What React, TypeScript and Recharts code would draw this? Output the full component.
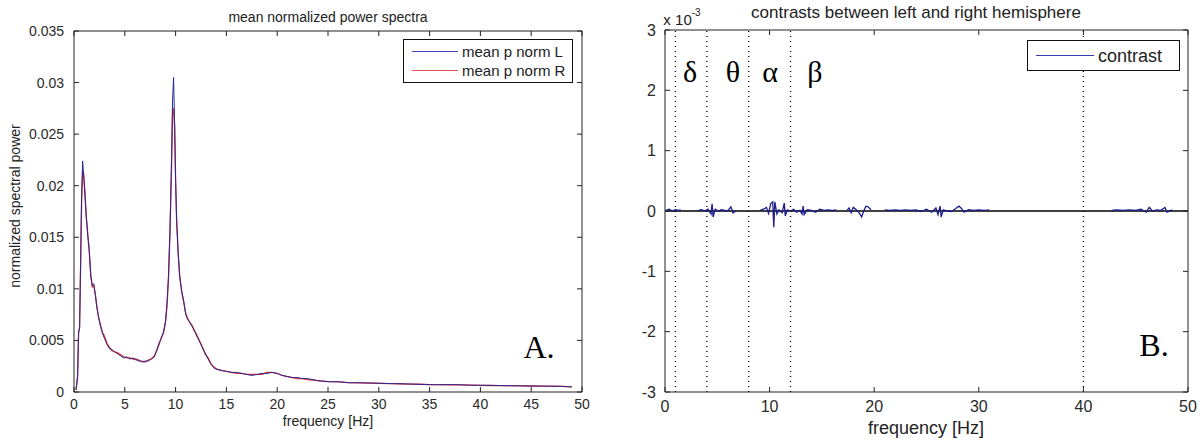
import React from 'react';
import { LineChart, Line, XAxis, YAxis, ReferenceLine } from 'recharts';

// panel A: mean normalized power spectra (left / right hemisphere)
const spectrumFreq = [
  0.2, 0.35, 0.45, 0.55, 0.65, 0.75, 0.85, 0.95, 1.05, 1.2, 1.35, 1.5, 1.65, 1.8, 1.95,
  2.1, 2.25, 2.4, 2.6, 2.8, 3.0, 3.25, 3.5, 3.75, 4.0, 4.3, 4.6, 4.9, 5.2, 5.5, 5.8,
  6.1, 6.4, 6.7, 7.0, 7.3, 7.6, 7.9, 8.15, 8.4, 8.6, 8.8, 9.0, 9.15, 9.3, 9.45, 9.6,
  9.7, 9.8, 9.9, 10.0, 10.1, 10.25, 10.4, 10.6, 10.8, 11.0, 11.2, 11.4, 11.6, 11.8,
  12.0, 12.3, 12.6, 12.9, 13.2, 13.5, 13.8, 14.1, 14.5, 15.0, 15.5, 16.0, 16.5, 17.0,
  17.5, 18.0, 18.5, 19.0, 19.5, 20.0, 20.5, 21.0, 21.5, 22.0, 22.5, 23.0, 24.0, 25.0,
  26.0, 27.0, 28.0, 29.0, 30.0, 31.0, 32.0, 33.0, 34.0, 35.0, 36.0, 37.0, 38.0, 39.0,
  40.0, 41.0, 42.0, 43.0, 44.0, 45.0, 46.0, 47.0, 48.0, 49.0,
];
const meanPNormL = [
  0.0002, 0.0015, 0.0058, 0.0062, 0.0125, 0.019, 0.0224, 0.021, 0.0198, 0.0172, 0.0152, 0.0138, 0.0112, 0.0103, 0.0105,
  0.0094, 0.0082, 0.0074, 0.0064, 0.0057, 0.0052, 0.0046, 0.0042, 0.0041, 0.0039, 0.0037, 0.0035, 0.0033, 0.0034, 0.0032, 0.0033,
  0.0031, 0.0031, 0.0029, 0.003, 0.003, 0.0032, 0.0034, 0.0041, 0.0048, 0.0052, 0.0058, 0.0068, 0.0085, 0.0112, 0.0158, 0.0225,
  0.0282, 0.0305, 0.0262, 0.0205, 0.0168, 0.0135, 0.0112, 0.0098, 0.0088, 0.0075, 0.007, 0.0068, 0.0064, 0.0061,
  0.0056, 0.005, 0.0044, 0.0038, 0.0032, 0.0027, 0.0023, 0.0022, 0.0021, 0.002, 0.0019, 0.0019, 0.0018, 0.0017,
  0.0016, 0.0017, 0.0018, 0.0018, 0.0019, 0.0018, 0.0016, 0.0015, 0.0014, 0.0014, 0.0013, 0.0013, 0.0011, 0.001,
  0.001, 0.0009, 0.0009, 0.00088, 0.00085, 0.00082, 0.0008, 0.00078, 0.00074, 0.00072, 0.0007, 0.00072, 0.0007, 0.00066,
  0.00065, 0.00064, 0.00062, 0.0006, 0.0006, 0.00058, 0.00057, 0.00055, 0.00055, 0.0005,
];
const meanPNormR = [
  0.0002, 0.0014, 0.0056, 0.0063, 0.0122, 0.0186, 0.0214, 0.0212, 0.0196, 0.017, 0.0154, 0.0136, 0.0114, 0.0102, 0.0103,
  0.0095, 0.0083, 0.0073, 0.0065, 0.0058, 0.0054, 0.0047, 0.0043, 0.004, 0.0039, 0.0038, 0.0036, 0.0034, 0.0033, 0.0033, 0.0032,
  0.0032, 0.003, 0.003, 0.0029, 0.0031, 0.0032, 0.0035, 0.004, 0.0047, 0.0053, 0.0057, 0.0067, 0.0083, 0.011, 0.0155, 0.0218,
  0.027, 0.0275, 0.0258, 0.0206, 0.0166, 0.0136, 0.0113, 0.0097, 0.0087, 0.0076, 0.0071, 0.0067, 0.0065, 0.006,
  0.0057, 0.0051, 0.0044, 0.0037, 0.0033, 0.0027, 0.0024, 0.0022, 0.0021, 0.002, 0.0019, 0.0018, 0.0018, 0.0017,
  0.0017, 0.0017, 0.0017, 0.0019, 0.0019, 0.0018, 0.0016, 0.0015, 0.0014, 0.0013, 0.0013, 0.0012, 0.0011, 0.001,
  0.00098, 0.0009, 0.00088, 0.00087, 0.00084, 0.00081, 0.0008, 0.00077, 0.00075, 0.00072, 0.00071, 0.0007, 0.00069, 0.00067,
  0.00065, 0.00063, 0.00062, 0.00061, 0.00059, 0.00058, 0.00057, 0.00056, 0.00054, 0.0005,
];
const freqTicksA = [0, 5, 10, 15, 20, 25, 30, 35, 40, 45, 50];
const powerTicks = [0, 0.005, 0.01, 0.015, 0.02, 0.025, 0.03, 0.035];

// panel B: L - R contrast, in units of 10^-3 (null = gap in the trace)
const contrastFreq = [
  0.1, 0.4, 0.7, 1.0, 1.3, 1.5, 2.0,
  3.2, 3.5, 3.8, 4.1, 4.4, 4.5, 4.6, 4.8, 5.1, 5.4, 5.7, 6.0, 6.3, 6.5, 6.8, 7.5,
  9.1, 9.4, 9.7, 9.9, 10.1, 10.3, 10.4, 10.5, 10.7, 10.9, 11.2, 11.4, 11.5, 11.7, 12.0, 12.3, 12.6, 12.9,
  13.1, 13.2, 13.3, 13.6, 14.0, 14.4, 14.8, 15.2, 15.6, 16.0, 16.4, 16.8,
  17.4, 17.6, 17.8, 18.0, 18.3, 18.6, 18.8, 19.0, 19.2, 19.4, 19.7, 20.3,
  21.0, 21.5, 22.0, 22.5, 23.0, 23.5, 24.0, 24.5, 25.0, 25.5, 25.9, 26.1, 26.3, 26.4, 26.6, 27.0,
  27.4, 27.8, 28.1, 28.3, 28.6, 29.0, 29.5, 30.0, 30.5, 31.0, 31.5,
  42.7, 43.2, 43.8, 44.4, 45.0, 45.5, 46.0, 46.3, 46.6, 47.0, 47.4, 47.8, 48.0, 48.5,
];
const contrastVal = [
  0.01, 0.03, 0.0, 0.02, 0.01, 0.02, null,
  0.01, 0.02, 0.0, 0.03, -0.05, 0.12, -0.1, 0.03, 0.0, 0.02, 0.01, 0.0, 0.07, -0.03, 0.01, null,
  0.01, 0.03, 0.06, -0.04, 0.12, 0.15, -0.27, 0.15, -0.05, 0.02, -0.03, 0.13, -0.08, 0.02, 0.0, 0.03, -0.02, 0.01,
  -0.05, 0.08, -0.06, 0.02, 0.01, -0.02, 0.03, 0.01, 0.02, 0.01, 0.02, null,
  0.01, 0.05, -0.03, 0.06, 0.02, -0.04, -0.1, 0.0, 0.08, 0.07, 0.02, null,
  0.02, 0.01, 0.02, 0.01, 0.02, 0.01, 0.02, -0.01, 0.03, -0.02, 0.05, -0.06, 0.08, -0.1, 0.02, 0.0,
  -0.01, 0.04, 0.08, 0.05, -0.02, 0.02, 0.01, 0.02, 0.01, 0.02, null,
  0.01, 0.02, 0.01, 0.02, 0.01, 0.03, -0.02, 0.06, 0.0, 0.02, 0.01, 0.06, -0.02, 0.02,
];
const freqTicksB = [0, 10, 20, 30, 40, 50];
const contrastTicks = [-3, -2, -1, 0, 1, 2, 3];
const bandEdges = [1, 4, 8, 12, 40];
const bandNames = ['δ', 'θ', 'α', 'β'];

const spectrumRows = spectrumFreq.map((f, i) => ({ f, L: meanPNormL[i], R: meanPNormR[i] }));
const contrastRows = contrastFreq.map((f, i) => ({ f, c: contrastVal[i] }));

const SANS = '"Liberation Sans", Arial, sans-serif';
const SERIF = '"Liberation Serif", "Times New Roman", serif';
const AX = '#222';
const blank = () => '';

const Txt = ({ x, y, size, children, font = SANS, rotate = 0, color = '#222' }: any) => (
  <div
    style={{
      position: 'absolute',
      left: x,
      top: y,
      transform: `translate(-50%, -50%) rotate(${rotate}deg)`,
      fontFamily: font,
      fontSize: size,
      color,
      whiteSpace: 'nowrap',
      lineHeight: 1,
    }}
  >
    {children}
  </div>
);

const LegendBox = ({ left, top, width, height, items, size, lineW }: any) => (
  <div
    style={{
      position: 'absolute',
      left,
      top,
      width,
      height,
      border: '1px solid #111',
      background: '#fff',
      boxSizing: 'border-box',
      fontFamily: SANS,
      fontSize: size,
      color: '#222',
      display: 'flex',
      flexDirection: 'column',
      justifyContent: 'center',
      gap: 4,
      whiteSpace: 'nowrap',
    }}
  >
    {items.map((it: any) => (
      <div key={it.name} style={{ display: 'flex', alignItems: 'center', lineHeight: 1 }}>
        <span style={{ display: 'inline-block', width: lineW, height: 0, borderTop: `1.5px solid ${it.color}`, marginLeft: 8, marginRight: 4, flexShrink: 0 }} />
        {it.name}
      </div>
    ))}
  </div>
);

// box axes: mirrored axes draw the frame with inward ticks, the plain ones carry only the labels
const frameAxes = (xTicks: number[], yDomain: number[], yTicks: number[], tick: any, xMargin: number, yMargin: number) => [
  <XAxis key="bm" xAxisId="bm" type="number" dataKey="f" domain={[0, 50]} ticks={xTicks} interval={0} height={1}
    mirror tickSize={5} tickFormatter={blank} stroke={AX} allowDataOverflow />,
  <XAxis key="b" xAxisId="b" type="number" dataKey="f" domain={[0, 50]} ticks={xTicks} interval={0} height={1}
    axisLine={false} tickLine={false} tickMargin={xMargin} tick={tick} allowDataOverflow />,
  <XAxis key="t" xAxisId="t" orientation="top" type="number" dataKey="f" domain={[0, 50]} ticks={xTicks} interval={0}
    height={1} mirror tickSize={5} tickFormatter={blank} stroke={AX} allowDataOverflow />,
  <YAxis key="lm" yAxisId="lm" type="number" domain={yDomain} ticks={yTicks} interval={0} width={1}
    mirror tickSize={5} tickFormatter={blank} stroke={AX} allowDataOverflow />,
  <YAxis key="l" yAxisId="l" type="number" domain={yDomain} ticks={yTicks} interval={0} width={1}
    axisLine={false} tickLine={false} tickMargin={yMargin} tick={tick} allowDataOverflow />,
  <YAxis key="r" yAxisId="r" orientation="right" type="number" domain={yDomain} ticks={yTicks} interval={0}
    width={1} mirror tickSize={5} tickFormatter={blank} stroke={AX} allowDataOverflow />,
];

export default function App() {
  const tickA = { fontSize: 14, fill: '#2a2a2a', fontFamily: SANS };
  const tickB = { fontSize: 16, fill: '#2a2a2a', fontFamily: SANS };
  return (
    <div style={{ position: 'absolute', left: 0, top: 0, width: 1202, height: 444, background: '#fff', overflow: 'hidden' }}>
      {/* A. */}
      <div style={{ position: 'absolute', left: 0, top: 0 }}>
        <LineChart width={600} height={444} data={spectrumRows} margin={{ top: 31, right: 18, bottom: 51, left: 73 }}>
          {frameAxes(freqTicksA, [0, 0.035], powerTicks, tickA, 1, 4)}
          <Line xAxisId="b" yAxisId="l" type="linear" dataKey="R" stroke="#e8322e" strokeWidth={1.3} dot={false} isAnimationActive={false} />
          <Line xAxisId="b" yAxisId="l" type="linear" dataKey="L" stroke="#262896" strokeWidth={1} dot={false} isAnimationActive={false} />
        </LineChart>
      </div>
      <Txt x={328} y={17} size={14}>mean normalized power spectra</Txt>
      <Txt x={328} y={421} size={14}>frequency [Hz]</Txt>
      <Txt x={15} y={206} size={14} rotate={-90}>normalized spectral power</Txt>
      <Txt x={539} y={347} size={32} font={SERIF} color="#000">A.</Txt>
      <LegendBox left={403} top={39} width={170} height={44} size={15} lineW={46}
        items={[{ name: 'mean p norm L', color: '#4545b5' }, { name: 'mean p norm R', color: '#e0505a' }]} />

      {/* B. */}
      <div style={{ position: 'absolute', left: 600, top: 0 }}>
        <LineChart width={602} height={444} data={contrastRows} margin={{ top: 30, right: 14, bottom: 51, left: 64 }}>
          {frameAxes(freqTicksB, [-3, 3], contrastTicks, tickB, 3, 3)}
          {bandEdges.map((e) => (
            <ReferenceLine key={e} xAxisId="b" yAxisId="l" x={e} stroke="#000" strokeDasharray="1 4" strokeWidth={1.3} />
          ))}
          <ReferenceLine xAxisId="b" yAxisId="l" y={0} stroke="#000" strokeWidth={1.3} />
          <Line xAxisId="b" yAxisId="l" type="linear" dataKey="c" stroke="#1c1c8c" strokeWidth={1.3} dot={false}
            connectNulls={false} isAnimationActive={false} />
        </LineChart>
      </div>
      <Txt x={916} y={12} size={17}>contrasts between left and right hemisphere</Txt>
      <Txt x={926} y={428} size={18}>frequency [Hz]</Txt>
      <Txt x={682} y={19} size={15}>x 10<sup style={{ fontSize: 10, position: 'relative', top: -3 }}>-3</sup></Txt>
      {bandNames.map((b, i) => (
        <Txt key={b} x={[690, 733, 770, 815][i]} y={72} size={30} font={SERIF} color="#000">{b}</Txt>
      ))}
      <Txt x={1154} y={345} size={32} font={SERIF} color="#000">B.</Txt>
      <LegendBox left={1027} top={40} width={153} height={31} size={18} lineW={58} items={[{ name: 'contrast', color: '#3a3ab0' }]} />
    </div>
  );
}
